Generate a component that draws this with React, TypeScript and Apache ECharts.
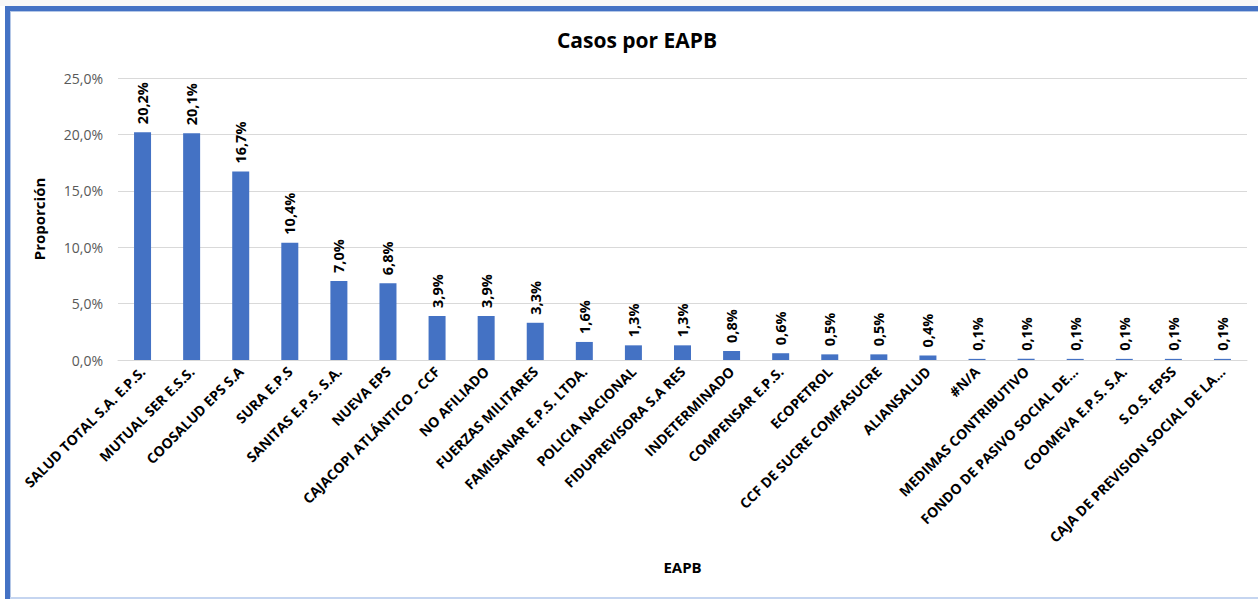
import React, { useEffect, useRef } from "react";
import * as echarts from "echarts";

const categories = [
  "SALUD TOTAL S.A. E.P.S.",
  "MUTUAL SER E.S.S.",
  "COOSALUD EPS S.A",
  "SURA E.P.S",
  "SANITAS E.P.S. S.A.",
  "NUEVA EPS",
  "CAJACOPI ATLÁNTICO - CCF",
  "NO AFILIADO",
  "FUERZAS MILITARES",
  "FAMISANAR E.P.S. LTDA.",
  "POLICIA NACIONAL",
  "FIDUPREVISORA S.A RES",
  "INDETERMINADO",
  "COMPENSAR E.P.S.",
  "ECOPETROL",
  "CCF DE SUCRE COMFASUCRE",
  "ALIANSALUD",
  "#N/A",
  "MEDIMAS CONTRIBUTIVO",
  "FONDO DE PASIVO SOCIAL DE...",
  "COOMEVA E.P.S. S.A.",
  "S.O.S. EPSS",
  "CAJA DE PREVISION SOCIAL DE LA...",
];

const proportions = [
  20.2, 20.1, 16.7, 10.4, 7.0, 6.8, 3.9, 3.9, 3.3, 1.6, 1.3, 1.3, 0.8, 0.6,
  0.5, 0.5, 0.4, 0.1, 0.1, 0.1, 0.1, 0.1, 0.1,
];

const yTicks = [0, 5, 10, 15, 20, 25];

const fmt = (v: number) => v.toFixed(1).replace(".", ",") + "%";

export default function App() {
  const ref = useRef<HTMLDivElement>(null);
  useEffect(() => {
    if (!ref.current) return;
    const chart = echarts.init(ref.current, null, { renderer: "svg" });
    const font = "'Open Sans', 'Noto Sans', sans-serif";
    chart.setOption({
      animation: false,
      backgroundColor: "#ffffff",
      textStyle: { fontFamily: font },
      graphic: [
        { type: "rect", shape: { x: 0, y: 0, width: 1258, height: 6 }, style: { fill: "#f7f7f7" }, silent: true },
        { type: "rect", shape: { x: 5, y: 6, width: 1253, height: 5 }, style: { fill: "#4472C4" }, silent: true },
        { type: "rect", shape: { x: 5, y: 6, width: 5, height: 593 }, style: { fill: "#4472C4" }, silent: true },
        { type: "rect", shape: { x: 10, y: 11, width: 1, height: 588 }, style: { fill: "#b4c7e7" }, silent: true },
        { type: "rect", shape: { x: 10, y: 11, width: 1248, height: 1 }, style: { fill: "#b4c7e7" }, silent: true },
        { type: "rect", shape: { x: 10, y: 597, width: 1248, height: 2 }, style: { fill: "#c5d5f0" }, silent: true },
        {
          type: "text",
          x: 637,
          y: 40,
          style: {
            text: "Casos por EAPB",
            font: `bold 21px ${font}`,
            fill: "#000000",
            textAlign: "center",
            textVerticalAlign: "middle",
          },
        },
      ],
      grid: { left: 118, right: 11, top: 78, bottom: 239, containLabel: false },
      xAxis: {
        type: "category",
        data: categories,
        name: "EAPB",
        nameLocation: "middle",
        nameGap: 199,
        nameTextStyle: { fontWeight: "bold", fontSize: 15, color: "#000000", fontFamily: font },
        axisLine: { show: true, lineStyle: { color: "#d9d9d9", width: 1 } },
        axisTick: { show: false },
        axisLabel: {
          interval: 0,
          rotate: 45,
          fontSize: 14,
          fontWeight: "bold",
          color: "#000000",
          margin: 9,
          fontFamily: font,
        },
      },
      yAxis: {
        type: "value",
        min: 0,
        max: 25,
        interval: 5,
        name: "Proporción",
        nameLocation: "middle",
        nameGap: 72,
        nameTextStyle: { fontWeight: "bold", fontSize: 15, color: "#000000", fontFamily: font },
        axisLine: { show: false },
        axisTick: { show: false },
        axisLabel: {
          formatter: (v: number) => (yTicks.includes(v) ? fmt(v) : ""),
          fontSize: 14,
          color: "#595959",
          margin: 15,
          fontFamily: font,
        },
        splitLine: { lineStyle: { color: "#d9d9d9", width: 1 } },
      },
      series: [
        {
          type: "bar",
          data: proportions,
          barWidth: 17,
          itemStyle: { color: "#4472C4" },
          label: {
            show: true,
            position: "top",
            rotate: 90,
            align: "left",
            verticalAlign: "middle",
            distance: 8,
            formatter: (p: any) => fmt(p.value),
            fontSize: 14.5,
            fontWeight: "bold",
            color: "#000000",
            fontFamily: font,
          },
        },
      ],
    });
    return () => chart.dispose();
  }, []);
  return (
    <div
      ref={ref}
      style={{ position: "absolute", left: 0, top: 0, width: 1258, height: 599 }}
    />
  );
}
